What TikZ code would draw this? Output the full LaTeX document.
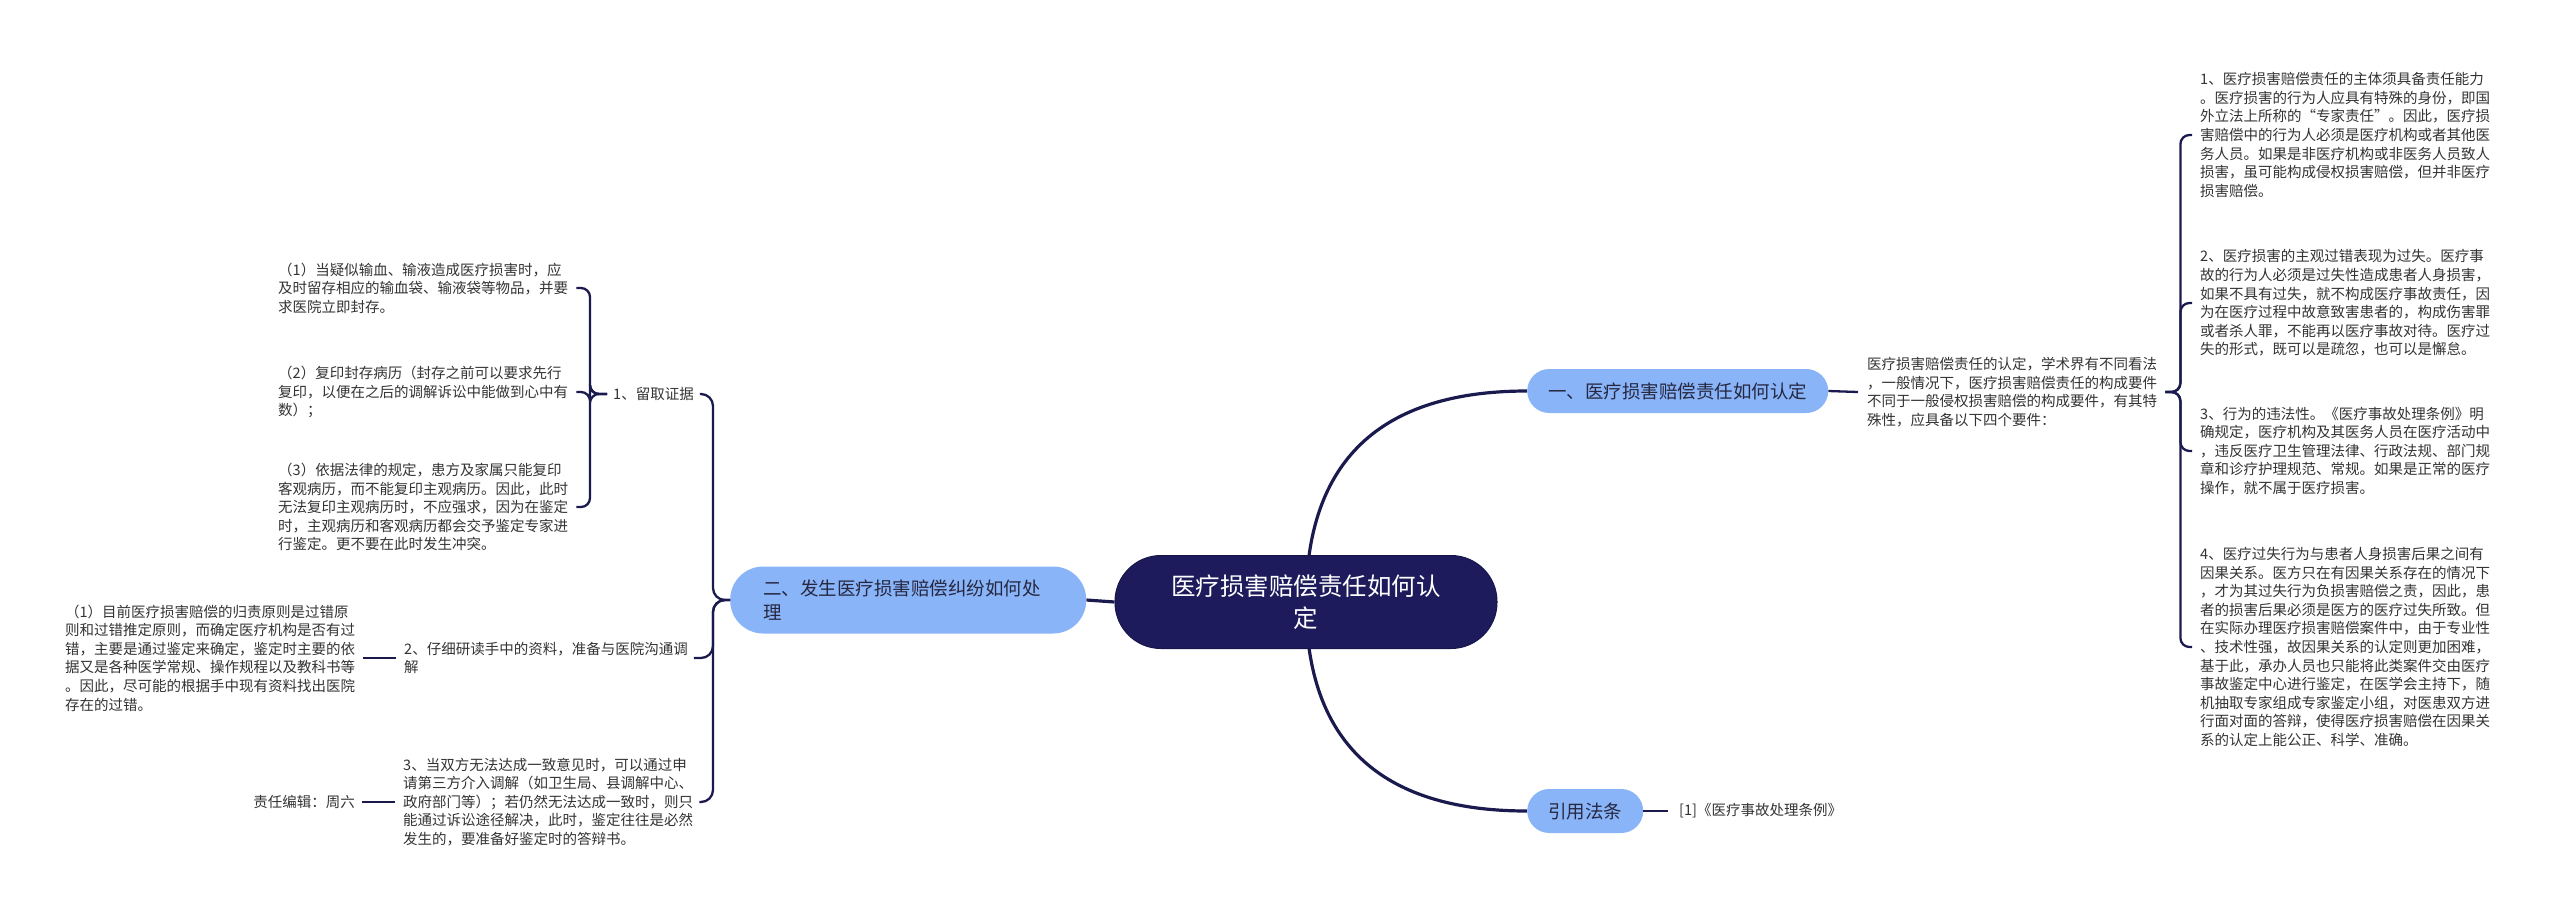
\documentclass[tikz,border=0pt]{standalone}
\usepackage{fontspec}
\setmainfont{Noto Sans CJK SC}
\usetikzlibrary{calc,backgrounds}
\definecolor{navy}{HTML}{1D1B5C}
\definecolor{linec}{HTML}{1B1A4E}
\definecolor{pill}{HTML}{8AB4F8}
\definecolor{txt}{HTML}{333333}
\definecolor{pilltxt}{HTML}{262842}
\begin{document}
\begin{tikzpicture}[x=1pt,y=1pt,
  leaf/.style={font=\fontsize{14.5}{18.6}\selectfont, text=txt, inner sep=0pt, align=left},
  subpill/.style={fill=pill, rounded corners=22pt, minimum height=44pt, inner xsep=21pt, inner ysep=0pt, font=\fontsize{18.5}{24.5}\selectfont, text=pilltxt},
  rootnode/.style={fill=navy, draw=navy!80!black, line width=1pt, rounded corners=46pt, minimum width=382pt, minimum height=93pt, text=white, align=center, font=\fontsize{24.5}{32}\selectfont},
  conn/.style={draw=linec, line width=2.3pt},
  mainconn/.style={draw=linec, line width=3.2pt}]
\useasboundingbox (0,0) rectangle (2560,-922);

% root and main branches
\node[rootnode] (root) at (1306,-602) {医疗损害赔偿责任如何认\\定};
\node[subpill, anchor=west] (b1) at (1527,-391) {一、医疗损害赔偿责任如何认定};
\node[subpill, anchor=west] (b3) at (1527,-811) {引用法条};
\node[subpill, anchor=west, rounded corners=33pt, minimum height=67pt, inner xsep=33pt, text width=290pt, align=left] (b2) at (730,-600) {二、发生医疗损害赔偿纠纷如何处\\理};

% right side
\node[leaf, anchor=west] (ref) at (1679,-811) {[1]《医疗事故处理条例》};
\node[leaf, anchor=west] (p1) at (1867,-392) {医疗损害赔偿责任的认定，学术界有不同看法\\，一般情况下，医疗损害赔偿责任的构成要件\\不同于一般侵权损害赔偿的构成要件，有其特\\殊性，应具备以下四个要件：};
\node[leaf, anchor=west] (r1) at (2200,-135) {1、医疗损害赔偿责任的主体须具备责任能力\\。医疗损害的行为人应具有特殊的身份，即国\\外立法上所称的“专家责任”。因此，医疗损\\害赔偿中的行为人必须是医疗机构或者其他医\\务人员。如果是非医疗机构或非医务人员致人\\损害，虽可能构成侵权损害赔偿，但并非医疗\\损害赔偿。};
\node[leaf, anchor=west] (r2) at (2200,-303) {2、医疗损害的主观过错表现为过失。医疗事\\故的行为人必须是过失性造成患者人身损害，\\如果不具有过失，就不构成医疗事故责任，因\\为在医疗过程中故意致害患者的，构成伤害罪\\或者杀人罪，不能再以医疗事故对待。医疗过\\失的形式，既可以是疏忽，也可以是懈怠。};
\node[leaf, anchor=west] (r3) at (2200,-451) {3、行为的违法性。《医疗事故处理条例》明\\确规定，医疗机构及其医务人员在医疗活动中\\，违反医疗卫生管理法律、行政法规、部门规\\章和诊疗护理规范、常规。如果是正常的医疗\\操作，就不属于医疗损害。};
\node[leaf, anchor=west] (r4) at (2200,-647) {4、医疗过失行为与患者人身损害后果之间有\\因果关系。医方只在有因果关系存在的情况下\\，才为其过失行为负损害赔偿之责，因此，患\\者的损害后果必须是医方的医疗过失所致。但\\在实际办理医疗损害赔偿案件中，由于专业性\\、技术性强，故因果关系的认定则更加困难，\\基于此，承办人员也只能将此类案件交由医疗\\事故鉴定中心进行鉴定，在医学会主持下，随\\机抽取专家组成专家鉴定小组，对医患双方进\\行面对面的答辩，使得医疗损害赔偿在因果关\\系的认定上能公正、科学、准确。};

% left side
\node[leaf, anchor=west] (c1) at (613,-394) {1、留取证据};
\node[leaf, anchor=west] (l1a) at (278,-288) {（1）当疑似输血、输液造成医疗损害时，应\\及时留存相应的输血袋、输液袋等物品，并要\\求医院立即封存。};
\node[leaf, anchor=west] (l1b) at (278,-392) {（2）复印封存病历（封存之前可以要求先行\\复印，以便在之后的调解诉讼中能做到心中有\\数）；};
\node[leaf, anchor=west] (l1c) at (278,-507) {（3）依据法律的规定，患方及家属只能复印\\客观病历，而不能复印主观病历。因此，此时\\无法复印主观病历时，不应强求，因为在鉴定\\时，主观病历和客观病历都会交予鉴定专家进\\行鉴定。更不要在此时发生冲突。};
\node[leaf, anchor=west] (c2) at (404,-658) {2、仔细研读手中的资料，准备与医院沟通调\\解};
\node[leaf, anchor=west] (l2a) at (65,-658) {（1）目前医疗损害赔偿的归责原则是过错原\\则和过错推定原则，而确定医疗机构是否有过\\错，主要是通过鉴定来确定，鉴定时主要的依\\据又是各种医学常规、操作规程以及教科书等\\。因此，尽可能的根据手中现有资料找出医院\\存在的过错。};
\node[leaf, anchor=west] (c3) at (403,-802) {3、当双方无法达成一致意见时，可以通过申\\请第三方介入调解（如卫生局、县调解中心、\\政府部门等）；若仍然无法达成一致时，则只\\能通过诉讼途径解决，此时，鉴定往往是必然\\发生的，要准备好鉴定时的答辩书。};
\node[leaf, anchor=east] (ed) at (355,-802) {责任编辑：周六};

\begin{scope}[on background layer]
  \draw[mainconn] (root.center) .. controls ($(root.center)!0.667!(root.center|-b1.west)$) and ($(b1.west)!0.667!(root.center|-b1.west)$) .. (b1.west);
  \draw[mainconn] (root.center) .. controls ($(root.center)!0.667!(root.center|-b3.west)$) and ($(b3.west)!0.667!(root.center|-b3.west)$) .. (b3.west);
  \draw[mainconn] (root.west) -- (b2.east);
\end{scope}

\draw[conn] (b1.east) -- ([xshift=-9pt]p1.west);
\draw[conn] (b3.east) -- ([xshift=-11pt]ref.west);
\foreach \r in {r1,r2,r3,r4}
  \draw[conn, rounded corners=9pt] ([xshift=8pt]p1.east) -- ++(15,0) |- ([xshift=-8pt]\r.west);
\foreach \r in {l1a,l1b,l1c}
  \draw[conn, rounded corners=9pt] ([xshift=-6pt]c1.west) -- ++(-17,0) |- ([xshift=8pt]\r.east);
\foreach \r in {c1,c2,c3}
  \draw[conn, rounded corners=12pt] (b2.west) -- ++(-17,0) |- ([xshift=6pt]\r.east);
\draw[conn] ([xshift=-8pt]c2.west) -- ([xshift=8pt]l2a.east);
\draw[conn] ([xshift=-8pt]c3.west) -- ([xshift=7pt]ed.east);
\end{tikzpicture}
\end{document}
